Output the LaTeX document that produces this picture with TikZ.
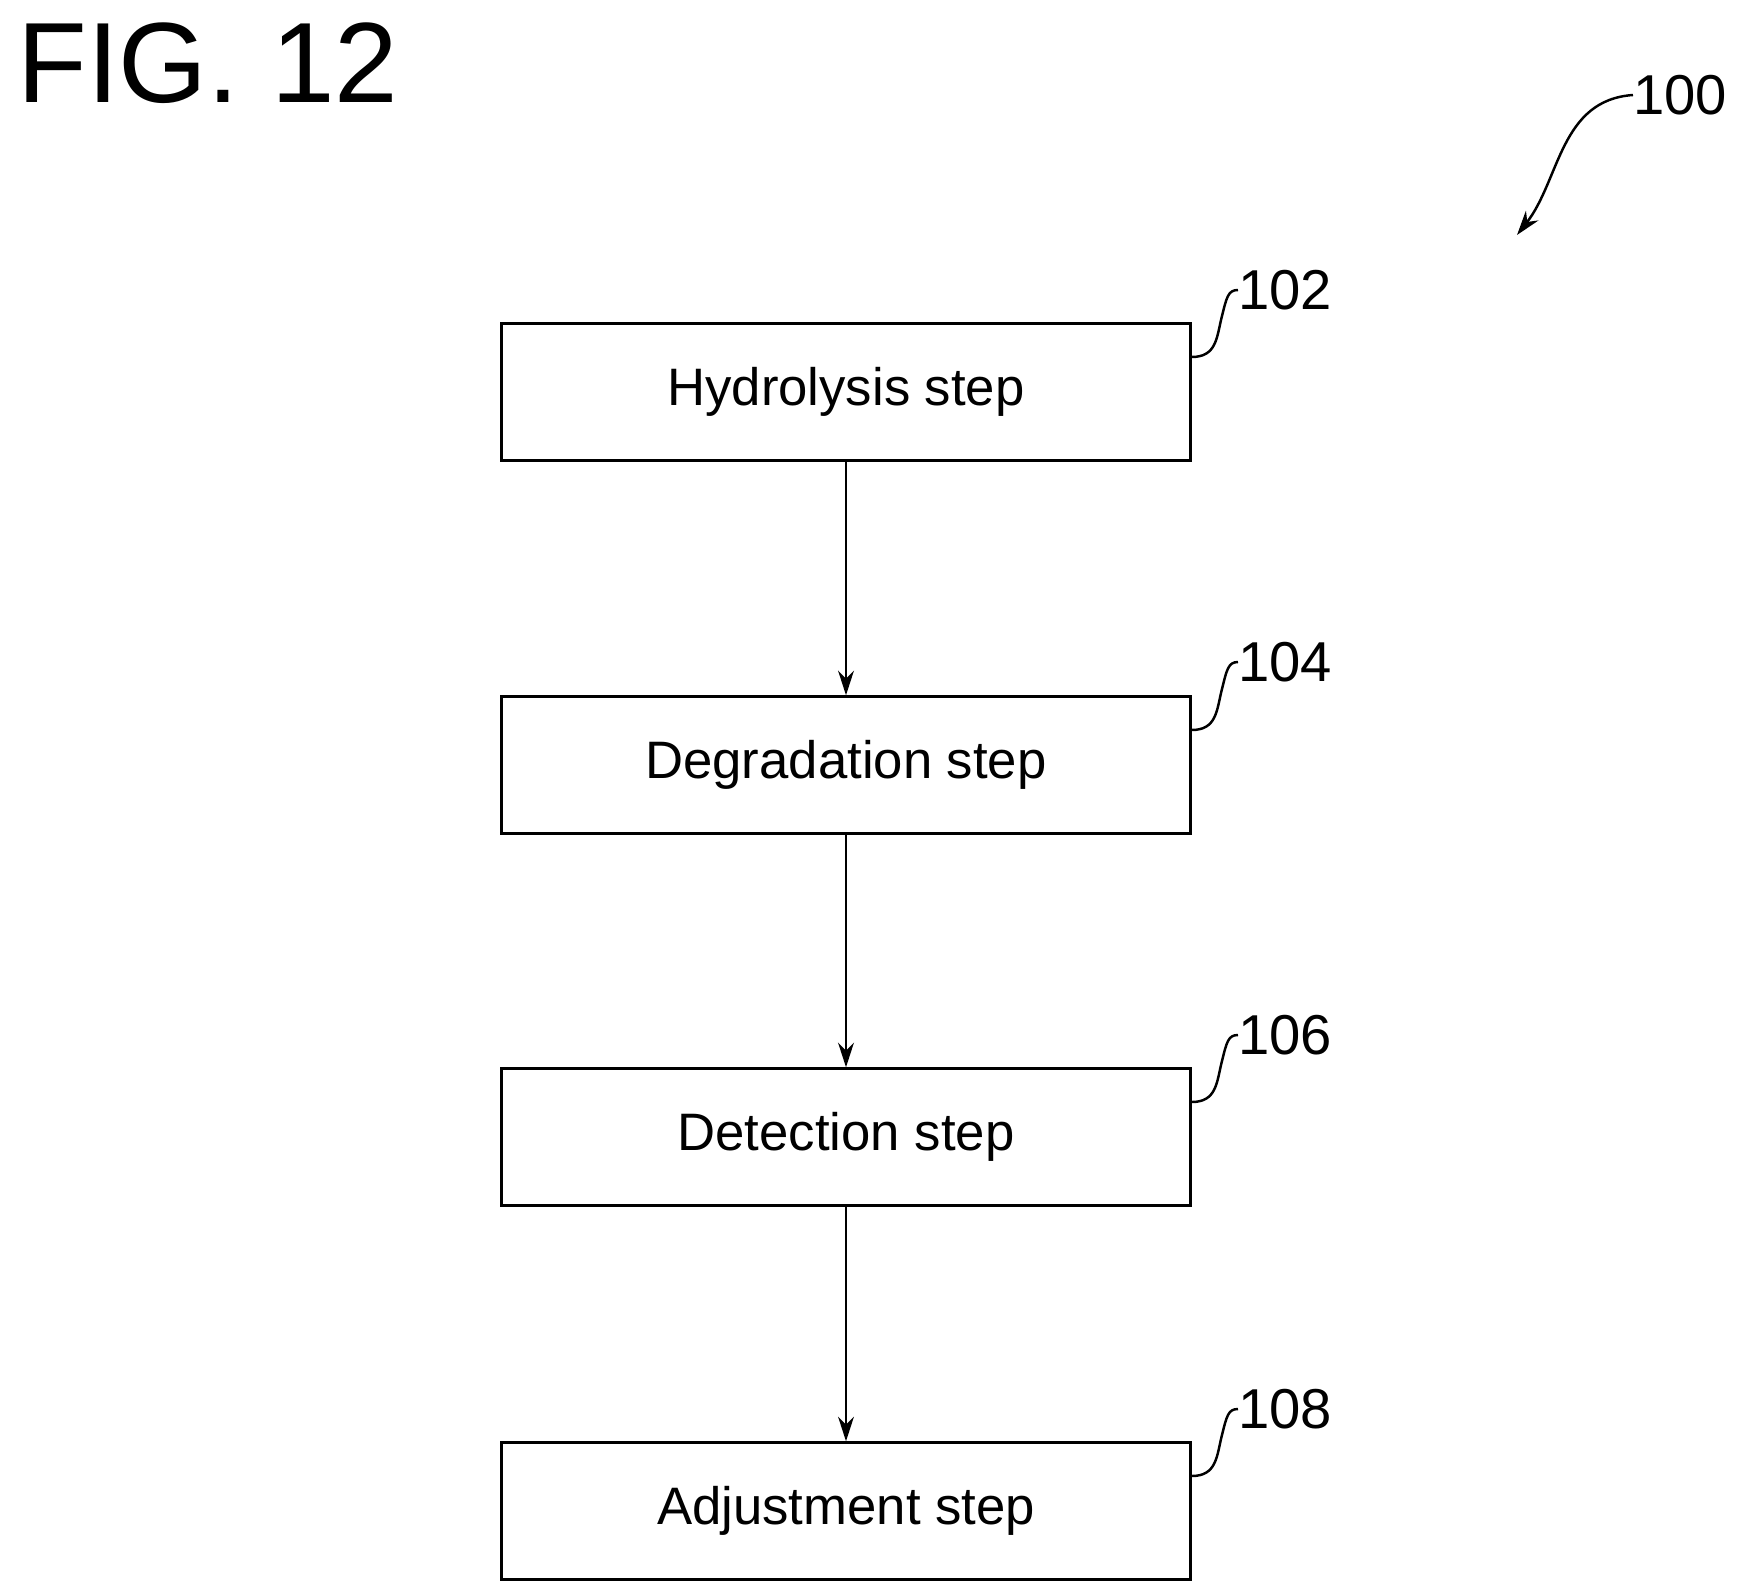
\documentclass[tikz,border=0pt]{standalone}
\usepackage{fontspec}
\setmainfont{Liberation Sans}
\usetikzlibrary{positioning,arrows.meta,calc}

\begin{document}
\begin{tikzpicture}[x=0.02cm,y=-0.02cm,
	stepbox/.style={draw, line width=1.4pt, minimum width=689*0.02cm, minimum height=137*0.02cm, font=\fontsize{30}{36}\selectfont},
	flow/.style={-{Stealth[length=14pt,width=9pt]}, line width=1.4pt},
	refnum/.style={font=\fontsize{32}{38}\selectfont, inner sep=0pt},
	lead/.style={line width=1.4pt}]

	% ---- frame

	\useasboundingbox (0,0) rectangle (1741,1595);

	% ---- title

	\node[anchor=north west, inner sep=0pt, font=\fontsize{65}{75}\selectfont] (title) at (17,22) {FIG. 12};

	% ---- steps

	\node[stepbox] (hydro) at (846,392) {Hydrolysis step};
	\node[stepbox] (degrad) at (846,765) {Degradation step};
	\node[stepbox] (detect) at (846,1137) {Detection step};
	\node[stepbox] (adjust) at (846,1511) {Adjustment step};

	% ---- arrows

	\draw[flow] (hydro) -- (degrad);
	\draw[flow] (degrad) -- (detect);
	\draw[flow] (detect) -- (adjust);

	% ---- reference numbers

	\foreach \nd/\num/\y in {hydro/102/290, degrad/104/662, detect/106/1035, adjust/108/1409} {
		\node[refnum, anchor=west] (r\num) at (1238,\y) {\num};
		\draw[lead] ($(\nd.east)+(0,-35)$) .. controls +(25,0) and +(-5,20) .. +(30,-40)
			.. controls +(5,-20) and +(-10,0) .. (r\num.west);
	}

	\node[refnum, anchor=west] (r100) at (1633,95) {100};
	\coordinate (tip100) at (1517,235);
	\draw[flow] (r100.west) .. controls (1560,100) and (1560,180) .. (tip100);

\end{tikzpicture}
\end{document}
